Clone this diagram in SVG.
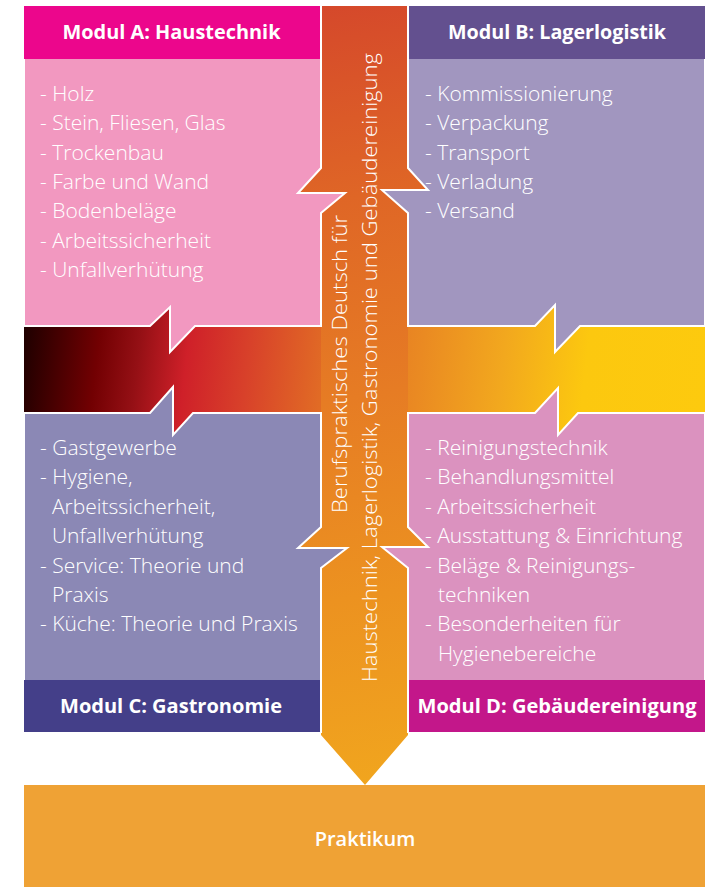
<svg xmlns="http://www.w3.org/2000/svg" width="708" height="887" viewBox="0 0 708 887">
  <defs>
    <linearGradient id="gBar" gradientUnits="userSpaceOnUse" x1="24" y1="330" x2="705" y2="410">
      <stop offset="0" stop-color="#1e0000"/>
      <stop offset="0.11" stop-color="#720002"/>
      <stop offset="0.17" stop-color="#951015"/>
      <stop offset="0.24" stop-color="#cf2029"/>
      <stop offset="0.33" stop-color="#d8412a"/>
      <stop offset="0.44" stop-color="#e16b25"/>
      <stop offset="0.58" stop-color="#ea8a22"/>
      <stop offset="0.70" stop-color="#f2a81e"/>
      <stop offset="0.82" stop-color="#fcc80f"/>
      <stop offset="1" stop-color="#fdca0e"/>
    </linearGradient>
    <linearGradient id="gArrow" gradientUnits="userSpaceOnUse" x1="300" y1="6" x2="430" y2="785">
      <stop offset="0" stop-color="#d5482b"/>
      <stop offset="0.25" stop-color="#df6626"/>
      <stop offset="0.5" stop-color="#e67c24"/>
      <stop offset="0.75" stop-color="#ec9220"/>
      <stop offset="1" stop-color="#f1a61e"/>
    </linearGradient>
    <style>
      .body { stroke: #ffffff; stroke-width: 2; stroke-linejoin: miter; }
      .hdr { font-family: "Open Sans", "Noto Sans", "Liberation Sans", sans-serif; font-weight: 700; font-size: 20px; fill: #ffffff; text-anchor: middle; }
      .item { font-family: "Open Sans", "Noto Sans", "Liberation Sans", sans-serif; font-weight: 300; font-size: 21px; fill: #ffffff; }
      .vert { font-family: "Open Sans", "Noto Sans", "Liberation Sans", sans-serif; font-weight: 300; font-size: 21px; fill: #ffffff; text-anchor: middle; }
      .prak { font-family: "Open Sans", "Noto Sans", "Liberation Sans", sans-serif; font-weight: 600; font-size: 20px; fill: #ffffff; text-anchor: middle; }
    </style>
  </defs>

  <g id="connectors">
    <path id="bar" fill="url(#gBar)" d="M24,326 H150 L170,307 L170,352 L195,326 H535 L555,305 L555,352 L580,326 H705 V413 H578 L558,435 L558,388 L535,413 H193 L173,435 L173,387 L150,413 H24 Z"/>
    <path id="arrow" fill="url(#gArrow)" d="M321,6 H408 V168 L428,190 L382,190 L408,213 V527 L428,547 L382,547 L408,568 V735 L365,785 L321,735 V568 L347,548 L298,548 L321,527 V213 L345,193 L298,193 L321,168 Z"/>
  </g>

  <g id="node-modul-a">
    <path class="body" fill="#f298c0" d="M24,6 H321 V168 L298,193 L345,193 L321,213 V326 H195 L170,352 L170,307 L150,326 H24 Z"/>
    <rect x="24" y="6" width="296" height="53" fill="#ec068c"/>
    <text class="hdr" x="171.5" y="39" textLength="218" lengthAdjust="spacingAndGlyphs">Modul A: Haustechnik</text>
    <text class="item" x="40" y="101">- Holz</text>
    <text class="item" x="40" y="130">- Stein, Fliesen, Glas</text>
    <text class="item" x="40" y="160">- Trockenbau</text>
    <text class="item" x="40" y="189">- Farbe und Wand</text>
    <text class="item" x="40" y="218">- Bodenbeläge</text>
    <text class="item" x="40" y="248">- Arbeitssicherheit</text>
    <text class="item" x="40" y="277">- Unfallverhütung</text>
  </g>

  <g id="node-modul-b">
    <path class="body" fill="#a196bf" d="M408,6 H705 V326 H580 L555,352 L555,305 L535,326 H408 V213 L382,190 L428,190 L408,168 Z"/>
    <rect x="409" y="6" width="296" height="53" fill="#63508f"/>
    <text class="hdr" x="557" y="39" textLength="218" lengthAdjust="spacingAndGlyphs">Modul B: Lagerlogistik</text>
    <text class="item" x="425" y="101">- Kommissionierung</text>
    <text class="item" x="425" y="130">- Verpackung</text>
    <text class="item" x="425" y="160">- Transport</text>
    <text class="item" x="425" y="189">- Verladung</text>
    <text class="item" x="425" y="218">- Versand</text>
  </g>

  <g id="node-modul-c">
    <path class="body" fill="#8b88b5" d="M24,413 H150 L173,387 L173,435 L193,413 H321 V527 L298,548 L347,548 L321,568 V732 H24 Z"/>
    <rect x="24" y="680" width="296" height="52" fill="#443f89"/>
    <text class="hdr" x="171" y="713" textLength="222" lengthAdjust="spacingAndGlyphs">Modul C: Gastronomie</text>
    <text class="item" x="40" y="455">- Gastgewerbe</text>
    <text class="item" x="40" y="484">- Hygiene,</text>
    <text class="item" x="52" y="514">Arbeitssicherheit,</text>
    <text class="item" x="52" y="543">Unfallverhütung</text>
    <text class="item" x="40" y="573">- Service: Theorie und</text>
    <text class="item" x="52" y="602">Praxis</text>
    <text class="item" x="40" y="631">- Küche: Theorie und Praxis</text>
  </g>

  <g id="node-modul-d">
    <path class="body" fill="#db92bf" d="M408,413 H535 L558,388 L558,435 L578,413 H705 V732 H408 V568 L382,547 L428,547 L408,527 Z"/>
    <rect x="409" y="680" width="296" height="52" fill="#c3178a"/>
    <text class="hdr" x="557" y="713" textLength="279" lengthAdjust="spacingAndGlyphs">Modul D: Gebäudereinigung</text>
    <text class="item" x="425" y="455">- Reinigungstechnik</text>
    <text class="item" x="425" y="484">- Behandlungsmittel</text>
    <text class="item" x="425" y="514">- Arbeitssicherheit</text>
    <text class="item" x="425" y="543">- Ausstattung &amp; Einrichtung</text>
    <text class="item" x="425" y="573">- Beläge &amp; Reinigungs-</text>
    <text class="item" x="438" y="602">techniken</text>
    <text class="item" x="425" y="631">- Besonderheiten für</text>
    <text class="item" x="438" y="661">Hygienebereiche</text>
  </g>

  <g id="arrow-label">
    <text class="vert" transform="translate(347,364) rotate(-90)" textLength="298" lengthAdjust="spacingAndGlyphs">Berufspraktisches Deutsch für</text>
    <text class="vert" transform="translate(377,367.5) rotate(-90)" textLength="629" lengthAdjust="spacingAndGlyphs">Haustechnik, Lagerlogistik, Gastronomie und Gebäudereinigung</text>
  </g>

  <g id="node-praktikum">
    <rect x="24" y="785" width="681" height="102" fill="#efa235"/>
    <text class="prak" x="365" y="846">Praktikum</text>
  </g>
</svg>
